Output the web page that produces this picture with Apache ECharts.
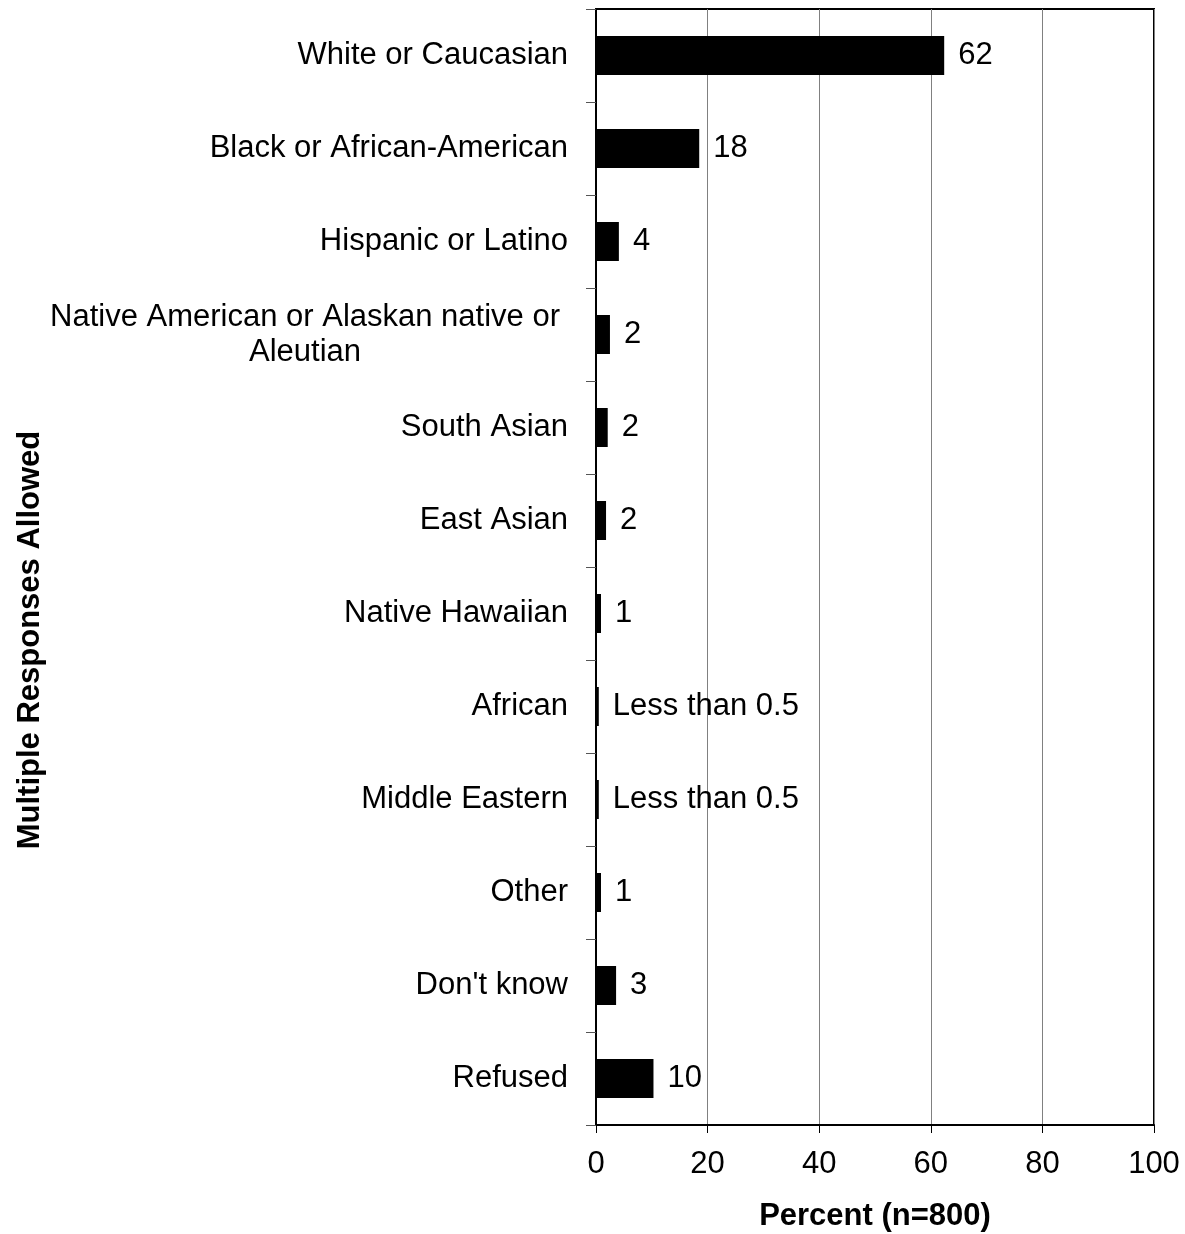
<!DOCTYPE html>
<html>
<head>
<meta charset="utf-8">
<script src="https://cdn.jsdelivr.net/npm/echarts@6/dist/echarts.min.js"></script>
<style>
  html, body { margin: 0; padding: 0; background: #fff; }
  #chart { width: 1185px; height: 1234px; }
</style>
</head>
<body>
<div id="chart"></div>
<script>
// data
var categories = [
    'White or Caucasian',
    'Black or African-American',
    'Hispanic or Latino',
    'Native American or Alaskan native or\nAleutian',
    'South Asian',
    'East Asian',
    'Native Hawaiian',
    'African',
    'Middle Eastern',
    'Other',
    "Don't know",
    'Refused'
];
var values = [62.4, 18.5, 4.1, 2.5, 2.1, 1.8, 0.9, 0.5, 0.5, 0.9, 3.6, 10.3];
var valueLabels = ['62', '18', '4', '2', '2', '2', '1', 'Less than 0.5', 'Less than 0.5', '1', '3', '10'];
var xTicks = [0, 20, 40, 60, 80, 100];

var font = 'Liberation Sans, Arial, Helvetica, sans-serif';
var fs = 31;

var myChart = echarts.init(document.getElementById('chart'));

var option = {
    animation: false,
    backgroundColor: '#fff',
    grid: {
        left: 596,
        right: 31,
        top: 9,
        bottom: 109,
        outerBoundsMode: 'none',
        show: true,
        borderColor: '#000',
        borderWidth: 2
    },
    graphic: [
        {
            type: 'text',
            x: 30,
            y: 640,
            rotation: Math.PI / 2,
            style: {
                text: 'Multiple Responses Allowed',
                fontFamily: font,
                fontSize: fs,
                fontWeight: 'bold',
                fill: '#000',
                align: 'center',
                verticalAlign: 'middle'
            }
        }
    ],
    xAxis: {
        type: 'value',
        min: xTicks[0],
        max: xTicks[xTicks.length - 1],
        interval: 20,
        name: 'Percent (n=800)',
        nameLocation: 'middle',
        nameGap: 76,
        nameTextStyle: { fontFamily: font, fontSize: fs, fontWeight: 'bold', color: '#000' },
        axisLine: { show: true, lineStyle: { color: '#000', width: 2 } },
        axisTick: { show: true, inside: false, length: 8, lineStyle: { color: '#000' } },
        axisLabel: { fontFamily: font, fontSize: fs, color: '#000', margin: 24 },
        splitLine: { show: true, lineStyle: { color: '#808080', width: 1 } }
    },
    yAxis: {
        type: 'category',
        inverse: true,
        data: categories,
        axisLine: { show: true, lineStyle: { color: '#000', width: 2 } },
        axisTick: { show: true, inside: false, length: 10, lineStyle: { color: '#555' } },
        axisLabel: {
            fontFamily: font,
            fontSize: fs,
            color: '#000',
            margin: 28,
            lineHeight: 35,
            formatter: function (v) {
                if (v.indexOf('\n') >= 0) {
                    return v.split('\n').map(function (s) { return '{c|' + s + '}'; }).join('\n');
                }
                return v;
            },
            rich: {
                c: { width: 526, align: 'center', fontFamily: font, fontSize: fs, color: '#000', lineHeight: 35 }
            }
        }
    },
    series: [
        {
            type: 'bar',
            data: values,
            barWidth: 39,
            itemStyle: { color: '#000' },
            label: {
                show: true,
                position: 'right',
                distance: 14,
                fontFamily: font,
                fontSize: fs,
                color: '#000',
                formatter: function (p) { return valueLabels[p.dataIndex]; }
            }
        }
    ]
};

myChart.setOption(option);
window.addEventListener('resize', function () {
    myChart.resize();
});
</script>
</body>
</html>
